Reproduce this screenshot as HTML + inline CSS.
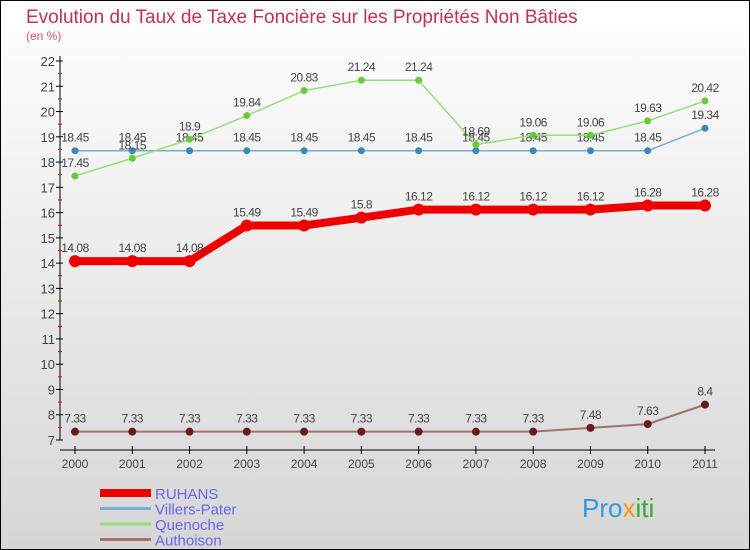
<!DOCTYPE html>
<html><head><meta charset="utf-8"><style>
html,body{margin:0;padding:0}
body{width:750px;height:550px;overflow:hidden;font-family:"Liberation Sans",sans-serif}
svg{display:block}
</style></head><body>
<svg id="c" width="750" height="550">
<defs><linearGradient id="bg" x1="0" y1="0" x2="0" y2="1"><stop offset="0" stop-color="#ffffff"/><stop offset="1" stop-color="#d6d6d6"/></linearGradient></defs>
<rect x="0.5" y="0.5" width="749" height="549" fill="url(#bg)" stroke="#000"/>
<text x="26" y="23" font-size="19" fill="#c0305f">Evolution du Taux de Taxe Foncière sur les Propriétés Non Bâties</text>
<text x="26" y="40" font-size="12" fill="#d05080">(en %)</text>
<g id="axes"></g><g id="series"></g><g id="legend"></g>
<text x="582" y="517" font-size="26" fill="#3399dd">Pro<tspan fill="#ff9900">x</tspan><tspan fill="#33aa33">iti</tspan></text>
</svg>
<script>
const years=[2000,2001,2002,2003,2004,2005,2006,2007,2008,2009,2010,2011];
const yTicks=[7,8,9,10,11,12,13,14,15,16,17,18,19,20,21,22];
const ruhans=[14.08,14.08,14.08,15.49,15.49,15.8,16.12,16.12,16.12,16.12,16.28,16.28];
const villers=[18.45,18.45,18.45,18.45,18.45,18.45,18.45,18.45,18.45,18.45,18.45,19.34];
const quenoche=[17.45,18.15,18.9,19.84,20.83,21.24,21.24,18.69,19.06,19.06,19.63,20.42];
const authoison=[7.33,7.33,7.33,7.33,7.33,7.33,7.33,7.33,7.33,7.48,7.63,8.4];
const seriesNames=["RUHANS","Villers-Pater","Quenoche","Authoison"];
const NS="http://www.w3.org/2000/svg";
function X(i){return 75+i*(630/11);}
function Y(v){return 440-(v-7)*(379/15);}
function mk(t,a,p){const e=document.createElementNS(NS,t);for(const k in a)e.setAttribute(k,a[k]);p.appendChild(e);return e;}
const ax=document.getElementById('axes');
let yl=mk('line',{x1:60,y1:56,x2:60,y2:440,stroke:'#000'},ax);


let xl=mk('line',{x1:60,y1:450,x2:715,y2:450,stroke:'#000'},ax);


yTicks.forEach(v=>{
  mk('line',{x1:56,y1:Y(v),x2:63,y2:Y(v),stroke:'#000'},ax);
  if(v<22)mk('line',{x1:58,y1:Y(v+0.5),x2:62,y2:Y(v+0.5),stroke:'#e00'},ax);
  const t=mk('text',{x:55,y:Y(v)+5,'text-anchor':'end','font-size':13,fill:'#444'},ax);
  t.textContent=v;
  
  
});
years.forEach((y,i)=>{
  mk('line',{x1:X(i),y1:446,x2:X(i),y2:454,stroke:'#000'},ax);
  const t=mk('text',{x:X(i),y:468,'text-anchor':'middle','font-size':12,fill:'#444'},ax);
  t.textContent=y;
  
  
});
const sg=document.getElementById('series');
function draw(vals,line,dot,w,r,name){
  const g=mk('g',{},sg);
  
  
  mk('polyline',{points:vals.map((v,i)=>X(i)+','+Y(v)).join(' '),fill:'none',stroke:line,'stroke-width':w},g);
  vals.forEach((v,i)=>{
    const c=mk('circle',{cx:X(i),cy:Y(v),r:r,fill:dot},g);
    
    
    const t=mk('text',{x:X(i),y:Y(v)-9,'text-anchor':'middle','font-size':12,fill:'#444','letter-spacing':'-0.5'},g);
    t.textContent=v;
    
    
  });
}
draw(authoison,'#a07070','#6a1a1a',2,4,'authoison');
draw(villers,'#7aaed0','#3a88c0',1.5,3.5,'villers-pater');
draw(quenoche,'#99dd77','#66cc33',1.5,3.5,'quenoche');
draw(ruhans,'#ee0000','#ee0000',8,6,'ruhans');
const lg=document.getElementById('legend');
const lc=['#ee0000','#7aaed0','#99dd77','#a07070'],lw=[8,3,3,3];
seriesNames.forEach((n,i)=>{
  const g=mk('g',{},lg);
  
  
  const y=493+i*15.5;
  mk('line',{x1:100,y1:y,x2:151,y2:y,stroke:lc[i],'stroke-width':lw[i]},g);
  const t=mk('text',{x:155,y:y+6,'font-size':15,fill:'#6666ee'},g);
  t.textContent=n;
});
</script>
</body></html>
